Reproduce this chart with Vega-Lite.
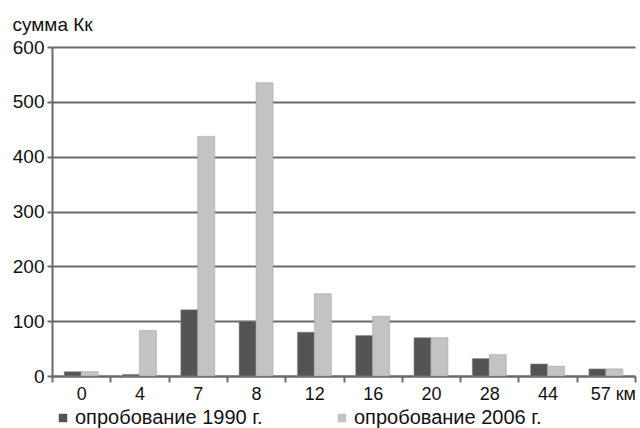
{
  "$schema": "https://vega.github.io/schema/vega-lite/v6.json",
  "width": 583,
  "height": 329,
  "autosize": "none",
  "padding": {"left": 52, "top": 47, "right": 5, "bottom": 52},
  "background": "white",
  "config": {
    "font": "Liberation Sans",
    "view": {"stroke": null},
    "axis": {"labelColor": "#111", "titleColor": "#111"}
  },
  "data": {
    "values": [
      {"km": "0", "series": "опробование 1990 г.", "value": 8},
      {"km": "0", "series": "опробование 2006 г.", "value": 8},
      {"km": "4", "series": "опробование 1990 г.", "value": 3},
      {"km": "4", "series": "опробование 2006 г.", "value": 83},
      {"km": "7", "series": "опробование 1990 г.", "value": 121},
      {"km": "7", "series": "опробование 2006 г.", "value": 437},
      {"km": "8", "series": "опробование 1990 г.", "value": 100},
      {"km": "8", "series": "опробование 2006 г.", "value": 535},
      {"km": "12", "series": "опробование 1990 г.", "value": 80},
      {"km": "12", "series": "опробование 2006 г.", "value": 150},
      {"km": "16", "series": "опробование 1990 г.", "value": 74},
      {"km": "16", "series": "опробование 2006 г.", "value": 109},
      {"km": "20", "series": "опробование 1990 г.", "value": 70},
      {"km": "20", "series": "опробование 2006 г.", "value": 70},
      {"km": "28", "series": "опробование 1990 г.", "value": 32},
      {"km": "28", "series": "опробование 2006 г.", "value": 39},
      {"km": "44", "series": "опробование 1990 г.", "value": 22},
      {"km": "44", "series": "опробование 2006 г.", "value": 18},
      {"km": "57", "series": "опробование 1990 г.", "value": 13},
      {"km": "57", "series": "опробование 2006 г.", "value": 13}
    ]
  },
  "mark": {"type": "bar", "stroke": "#9a9a9a", "strokeWidth": 0.5},
  "encoding": {
    "x": {
      "field": "km",
      "type": "nominal",
      "sort": ["0", "4", "7", "8", "12", "16", "20", "28", "44", "57"],
      "scale": {"paddingInner": 0, "paddingOuter": 0},
      "axis": {
        "title": null,
        "labelAngle": 0,
        "tickBand": "extent",
        "domainColor": "#6a6a6a",
        "domainWidth": 2,
        "tickColor": "#6a6a6a",
        "tickWidth": 2,
        "tickSize": 6,
        "labelFontSize": 18,
        "labelPadding": 3,
        "labelExpr": "datum.label == '57' ? '57 км' : datum.label",
        "labelOffset": {"condition": {"test": "datum.value == '57'", "value": 7}, "value": 0}
      }
    },
    "xOffset": {
      "field": "series",
      "type": "nominal",
      "scale": {"paddingOuter": 0.715, "paddingInner": 0}
    },
    "y": {
      "field": "value",
      "type": "quantitative",
      "scale": {"domain": [0, 600], "nice": false},
      "axis": {
        "values": [0, 100, 200, 300, 400, 500, 600],
        "title": "сумма Кк",
        "titleAngle": 0,
        "titleAlign": "left",
        "titleBaseline": "alphabetic",
        "titleX": -40,
        "titleY": -17,
        "titleFontSize": 19,
        "titleFontWeight": "normal",
        "grid": true,
        "gridColor": "#6a6a6a",
        "gridWidth": 2,
        "domainColor": "#6a6a6a",
        "domainWidth": 2,
        "tickColor": "#6a6a6a",
        "tickWidth": 2,
        "tickSize": 5,
        "labelFontSize": 19,
        "labelPadding": 3
      }
    },
    "color": {
      "field": "series",
      "type": "nominal",
      "scale": {
        "domain": ["опробование 1990 г.", "опробование 2006 г."],
        "range": ["#545454", "#c3c3c3"]
      },
      "legend": {
        "title": null,
        "orient": "none",
        "direction": "horizontal",
        "legendX": 1,
        "legendY": 361,
        "symbolType": "square",
        "symbolSize": 72,
        "symbolStrokeWidth": 0,
        "labelFontSize": 20,
        "labelColor": "#111",
        "labelOffset": 2,
        "labelLimit": 400,
        "columnPadding": 69
      }
    }
  }
}
